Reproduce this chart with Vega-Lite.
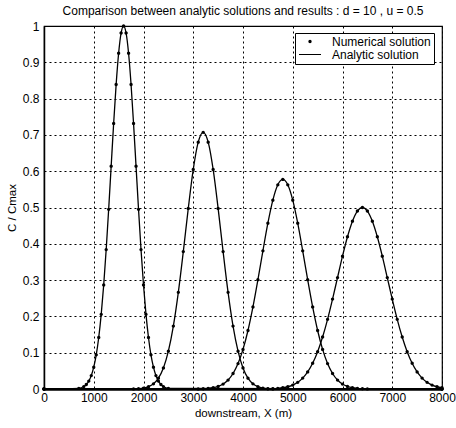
{
  "$schema": "https://vega.github.io/schema/vega-lite/v6.json",
  "width": 398,
  "height": 363,
  "autosize": {"type": "none"},
  "padding": {"left": 44, "top": 26, "right": 14, "bottom": 39},
  "background": "white",
  "title": {"text": "Comparison between analytic solutions and results : d = 10 , u = 0.5", "fontSize": 12, "fontWeight": "normal", "font": "Liberation Sans", "color": "black", "offset": 2, "anchor": "middle"},
  "config": {
    "view": {"stroke": "black", "strokeWidth": 1.2},
    "axis": {"labelFont": "Liberation Sans", "titleFont": "Liberation Sans", "labelColor": "black", "titleColor": "black", "labelFontSize": 12, "titleFontSize": 11.5, "titleFontWeight": "normal", "domainColor": "black", "grid": true, "gridColor": "black", "gridOpacity": 1, "gridDash": [2, 3], "gridWidth": 1, "ticks": false, "labelFlush": false}
  },
  "data": {"values": [
    {"x": 0, "c": 0, "run": 1}, {"x": 700, "c": 0.0018, "run": 1}, {"x": 800, "c": 0.0067, "run": 1}, {"x": 850, "c": 0.0124, "run": 1}, {"x": 900, "c": 0.0218, "run": 1}, {"x": 950, "c": 0.0369, "run": 1}, {"x": 1000, "c": 0.0601, "run": 1}, {"x": 1050, "c": 0.0941, "run": 1}, {"x": 1100, "c": 0.1419, "run": 1}, {"x": 1150, "c": 0.2056, "run": 1}, {"x": 1200, "c": 0.2865, "run": 1}, {"x": 1250, "c": 0.3841, "run": 1}, {"x": 1300, "c": 0.4951, "run": 1}, {"x": 1350, "c": 0.6138, "run": 1}, {"x": 1400, "c": 0.7316, "run": 1}, {"x": 1450, "c": 0.8388, "run": 1}, {"x": 1500, "c": 0.9249, "run": 1}, {"x": 1550, "c": 0.9807, "run": 1}, {"x": 1600, "c": 1, "run": 1}, {"x": 1650, "c": 0.9807, "run": 1}, {"x": 1700, "c": 0.9249, "run": 1}, {"x": 1750, "c": 0.8388, "run": 1}, {"x": 1800, "c": 0.7316, "run": 1}, {"x": 1850, "c": 0.6138, "run": 1}, {"x": 1900, "c": 0.4951, "run": 1}, {"x": 1950, "c": 0.3841, "run": 1}, {"x": 2000, "c": 0.2865, "run": 1}, {"x": 2050, "c": 0.2056, "run": 1}, {"x": 2100, "c": 0.1419, "run": 1}, {"x": 2150, "c": 0.0941, "run": 1}, {"x": 2200, "c": 0.0601, "run": 1}, {"x": 2250, "c": 0.0369, "run": 1}, {"x": 2300, "c": 0.0218, "run": 1}, {"x": 2350, "c": 0.0124, "run": 1}, {"x": 2400, "c": 0.0067, "run": 1}, {"x": 2500, "c": 0.0018, "run": 1}, {"x": 8000, "c": 0, "run": 1},
    {"x": 0, "c": 0, "run": 2}, {"x": 1800, "c": 0.0003, "run": 2}, {"x": 1900, "c": 0.001, "run": 2}, {"x": 2000, "c": 0.0025, "run": 2}, {"x": 2100, "c": 0.0063, "run": 2}, {"x": 2200, "c": 0.0142, "run": 2}, {"x": 2300, "c": 0.0299, "run": 2}, {"x": 2400, "c": 0.058, "run": 2}, {"x": 2500, "c": 0.1043, "run": 2}, {"x": 2600, "c": 0.1733, "run": 2}, {"x": 2700, "c": 0.2663, "run": 2}, {"x": 2800, "c": 0.3785, "run": 2}, {"x": 2900, "c": 0.4975, "run": 2}, {"x": 3000, "c": 0.6048, "run": 2}, {"x": 3100, "c": 0.68, "run": 2}, {"x": 3200, "c": 0.7071, "run": 2}, {"x": 3300, "c": 0.68, "run": 2}, {"x": 3400, "c": 0.6048, "run": 2}, {"x": 3500, "c": 0.4975, "run": 2}, {"x": 3600, "c": 0.3785, "run": 2}, {"x": 3700, "c": 0.2663, "run": 2}, {"x": 3800, "c": 0.1733, "run": 2}, {"x": 3900, "c": 0.1043, "run": 2}, {"x": 4000, "c": 0.058, "run": 2}, {"x": 4100, "c": 0.0299, "run": 2}, {"x": 4200, "c": 0.0142, "run": 2}, {"x": 4300, "c": 0.0063, "run": 2}, {"x": 4400, "c": 0.0025, "run": 2}, {"x": 4500, "c": 0.001, "run": 2}, {"x": 4600, "c": 0.0003, "run": 2}, {"x": 8000, "c": 0, "run": 2},
    {"x": 0, "c": 0, "run": 3}, {"x": 3100, "c": 0.0003, "run": 3}, {"x": 3200, "c": 0.0007, "run": 3}, {"x": 3300, "c": 0.0016, "run": 3}, {"x": 3400, "c": 0.0035, "run": 3}, {"x": 3500, "c": 0.0071, "run": 3}, {"x": 3600, "c": 0.0136, "run": 3}, {"x": 3700, "c": 0.0247, "run": 3}, {"x": 3800, "c": 0.0427, "run": 3}, {"x": 3900, "c": 0.07, "run": 3}, {"x": 4000, "c": 0.1091, "run": 3}, {"x": 4100, "c": 0.1612, "run": 3}, {"x": 4200, "c": 0.2261, "run": 3}, {"x": 4300, "c": 0.3011, "run": 3}, {"x": 4400, "c": 0.3806, "run": 3}, {"x": 4500, "c": 0.4568, "run": 3}, {"x": 4600, "c": 0.5203, "run": 3}, {"x": 4700, "c": 0.5626, "run": 3}, {"x": 4800, "c": 0.5774, "run": 3}, {"x": 4900, "c": 0.5626, "run": 3}, {"x": 5000, "c": 0.5203, "run": 3}, {"x": 5100, "c": 0.4568, "run": 3}, {"x": 5200, "c": 0.3806, "run": 3}, {"x": 5300, "c": 0.3011, "run": 3}, {"x": 5400, "c": 0.2261, "run": 3}, {"x": 5500, "c": 0.1612, "run": 3}, {"x": 5600, "c": 0.1091, "run": 3}, {"x": 5700, "c": 0.07, "run": 3}, {"x": 5800, "c": 0.0427, "run": 3}, {"x": 5900, "c": 0.0247, "run": 3}, {"x": 6000, "c": 0.0136, "run": 3}, {"x": 6100, "c": 0.0071, "run": 3}, {"x": 6200, "c": 0.0035, "run": 3}, {"x": 6300, "c": 0.0016, "run": 3}, {"x": 6400, "c": 0.0007, "run": 3}, {"x": 6500, "c": 0.0003, "run": 3}, {"x": 8000, "c": 0, "run": 3},
    {"x": 0, "c": 0, "run": 4}, {"x": 4500, "c": 0.0004, "run": 4}, {"x": 4600, "c": 0.0009, "run": 4}, {"x": 4700, "c": 0.0018, "run": 4}, {"x": 4800, "c": 0.0034, "run": 4}, {"x": 4900, "c": 0.0062, "run": 4}, {"x": 5000, "c": 0.0109, "run": 4}, {"x": 5100, "c": 0.0184, "run": 4}, {"x": 5200, "c": 0.03, "run": 4}, {"x": 5300, "c": 0.047, "run": 4}, {"x": 5400, "c": 0.0709, "run": 4}, {"x": 5500, "c": 0.1028, "run": 4}, {"x": 5600, "c": 0.1433, "run": 4}, {"x": 5700, "c": 0.192, "run": 4}, {"x": 5800, "c": 0.2476, "run": 4}, {"x": 5900, "c": 0.3069, "run": 4}, {"x": 6000, "c": 0.3658, "run": 4}, {"x": 6100, "c": 0.4194, "run": 4}, {"x": 6200, "c": 0.4624, "run": 4}, {"x": 6300, "c": 0.4903, "run": 4}, {"x": 6400, "c": 0.5, "run": 4}, {"x": 6500, "c": 0.4903, "run": 4}, {"x": 6600, "c": 0.4624, "run": 4}, {"x": 6700, "c": 0.4194, "run": 4}, {"x": 6800, "c": 0.3658, "run": 4}, {"x": 6900, "c": 0.3069, "run": 4}, {"x": 7000, "c": 0.2476, "run": 4}, {"x": 7100, "c": 0.192, "run": 4}, {"x": 7200, "c": 0.1433, "run": 4}, {"x": 7300, "c": 0.1028, "run": 4}, {"x": 7400, "c": 0.0709, "run": 4}, {"x": 7500, "c": 0.047, "run": 4}, {"x": 7600, "c": 0.03, "run": 4}, {"x": 7700, "c": 0.0184, "run": 4}, {"x": 7800, "c": 0.0109, "run": 4}, {"x": 7900, "c": 0.0062, "run": 4}, {"x": 8000, "c": 0.0034, "run": 4}
  ]},
  "encoding": {
    "x": {"field": "x", "type": "quantitative", "scale": {"domain": [0, 8000], "nice": false}, "axis": {"title": "downstream, X (m)", "values": [0, 1000, 2000, 3000, 4000, 5000, 6000, 7000, 8000], "format": "d", "labelPadding": 3, "titlePadding": 4, "domainWidth": 2.5}},
    "y": {"field": "c", "type": "quantitative", "scale": {"domain": [0, 1], "nice": false}, "axis": {"title": "C / Cmax", "values": [0, 0.1, 0.2, 0.3, 0.4, 0.5, 0.6, 0.7, 0.8, 0.9, 1], "format": "~g", "labelPadding": 5, "titlePadding": 5, "domainWidth": 1.5}}
  },
  "layer": [
    {"mark": {"type": "line", "color": "black", "strokeWidth": 1.3, "interpolate": "monotone"}, "encoding": {"detail": {"field": "run", "type": "nominal"}}},
    {"mark": {"type": "point", "filled": true, "color": "black", "opacity": 1, "size": 484},
     "encoding": {"shape": {"datum": "Numerical solution", "type": "nominal",
       "scale": {"domain": ["Numerical solution", "Analytic solution"], "range": ["M-0.15,0A0.15,0.15,0,1,1,0.15,0A0.15,0.15,0,1,1,-0.15,0Z", "M-1,-0.055H1V0.055H-1Z"]},
       "legend": {"title": null, "orient": "none", "legendX": 251, "legendY": 7, "direction": "vertical", "strokeColor": "black", "fillColor": "white", "padding": 3, "symbolSize": 484, "symbolFillColor": "black", "symbolOpacity": 1, "labelFontSize": 12, "labelFont": "Liberation Sans", "labelColor": "black", "labelOffset": 10, "clipHeight": 11, "rowPadding": 0, "symbolOffset": 0}}}}
  ]
}
